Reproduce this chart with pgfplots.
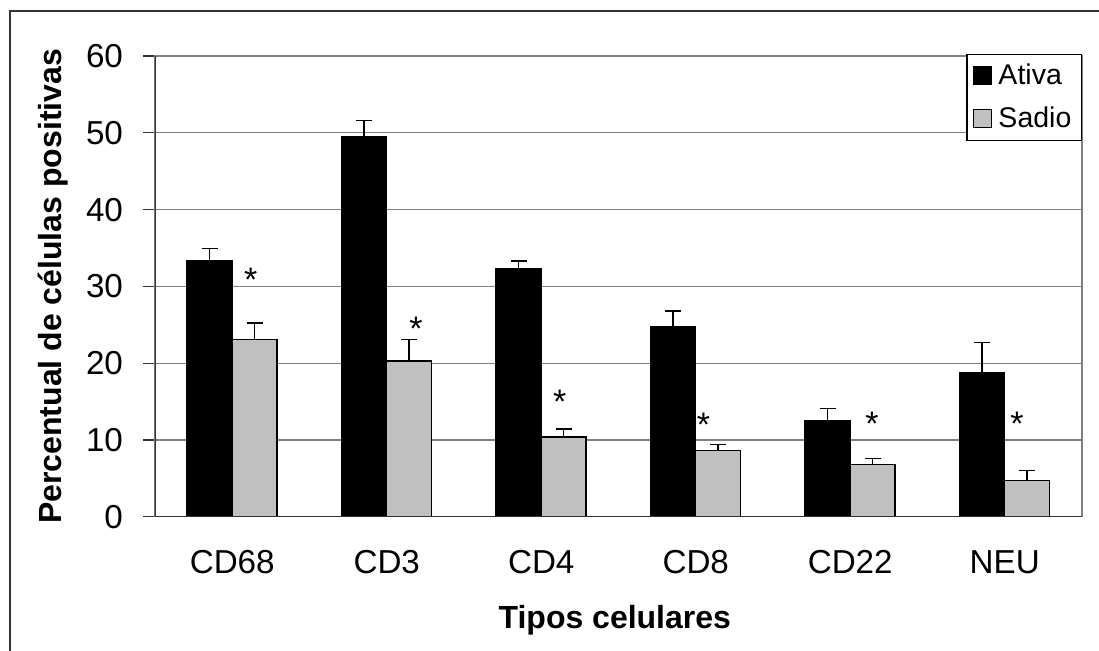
\documentclass[border=0pt]{standalone}
\usepackage{pgfplots}
\pgfplotsset{compat=1.18}
\usepackage{fontspec}
\setmainfont{Liberation Sans}
\definecolor{barg}{HTML}{C0C0C0}
\definecolor{gridg}{HTML}{808080}
\begin{document}
\begin{tikzpicture}
\useasboundingbox (-77.5pt,-66.65pt) rectangle (472pt,258.35pt);
\draw[line width=1pt, black!80] (-72.5pt,-70pt) -- (-72.5pt,252.85pt) -- (480pt,252.85pt);
\begin{axis}[
  at={(0,0)}, anchor=south west,
  scale only axis, width=463.5pt, height=230.35pt,
  xmin=-0.5, xmax=5.5, ymin=0, ymax=60,
  ybar=0pt, bar width=22.5pt,
  font=\fontsize{16}{19}\selectfont,
  ticklabel style={font=\fontsize{16.6}{19}\selectfont},
  /pgf/number format/assume math mode=true,
  ytick={0,10,...,60},
  ymajorgrids, grid style={gridg, line width=0.6pt},
  axis line style={gridg, line width=0.6pt},
  tick align=outside, major tick length=6pt,
  ytick pos=left, xtick pos=bottom,
  tick style={black!80, line width=0.6pt},
  xtick={0,...,5},
  xticklabels={CD68,CD3,CD4,CD8,CD22,NEU},
  xtick style={draw=none},
  extra x ticks={-0.5,0.5,1.5,2.5,3.5,4.5,5.5},
  extra x tick labels={},
  extra x tick style={grid=none, major tick length=5pt, tick style={draw=black!80}},
  xticklabel style={yshift=-7.5pt},
  yticklabel style={xshift=-6.5pt},
  xlabel={\bfseries Tipos celulares},
  ylabel={\bfseries Percentual de células positivas},
  xlabel style={at={(axis description cs:0.496,-0.2416)}, anchor=base},
  ylabel style={at={(axis description cs:-0.10065,0.5)}, anchor=base, rotate=0},
  legend style={at={(rel axis cs:1,1.005)}, anchor=north east, draw=black, line width=0.6pt,
    font=\fontsize{14.25}{16}\selectfont, row sep=5.7pt, inner xsep=3pt, inner ysep=2.85pt,
    nodes={inner sep=2pt, text depth=0.15em}},
  legend cell align=left,
  legend image code/.code={\draw[#1, line width=0.6pt] (0pt,-4.5pt) rectangle (9pt,4.5pt);
     \path[draw=none, fill=none] (0pt,0pt) -- (10.5pt,0pt);},
  error bars/error bar style={black, line width=0.75pt},
  error bars/error mark options={black, rotate=90, mark size=4pt, line width=0.75pt},
]
\addplot+[fill=black, draw=black, line width=0.75pt, error bars/.cd, y dir=plus, y explicit]
  coordinates {(0,33.3) +- (0,1.6) (1,49.5) +- (0,2.1) (2,32.3) +- (0,1.0)
               (3,24.8) +- (0,2.0) (4,12.5) +- (0,1.6) (5,18.8) +- (0,3.9)};
\addplot+[fill=barg, draw=black, line width=0.75pt, error bars/.cd, y dir=plus, y explicit]
  coordinates {(0,23.1) +- (0,2.1) (1,20.3) +- (0,2.8) (2,10.4) +- (0,1.05)
               (3,8.6) +- (0,0.8) (4,6.8) +- (0,0.8) (5,4.7) +- (0,1.3)};
\legend{Ativa, Sadio}
\draw[black!80, line width=0.8pt] (rel axis cs:0,1) -- (rel axis cs:0,0) -- (rel axis cs:1,0);
\node[anchor=north, inner sep=0pt, font=\fontsize{17}{19}\selectfont] at (axis cs:0.12,32.4) {*};
\node[anchor=north, inner sep=0pt, font=\fontsize{17}{19}\selectfont] at (axis cs:1.19,26.05) {*};
\node[anchor=north, inner sep=0pt, font=\fontsize{17}{19}\selectfont] at (axis cs:2.12,16.55) {*};
\node[anchor=north, inner sep=0pt, font=\fontsize{17}{19}\selectfont] at (axis cs:3.05,13.55) {*};
\node[anchor=north, inner sep=0pt, font=\fontsize{17}{19}\selectfont] at (axis cs:4.14,13.65) {*};
\node[anchor=north, inner sep=0pt, font=\fontsize{17}{19}\selectfont] at (axis cs:5.08,13.65) {*};
\end{axis}
\end{tikzpicture}
\end{document}
